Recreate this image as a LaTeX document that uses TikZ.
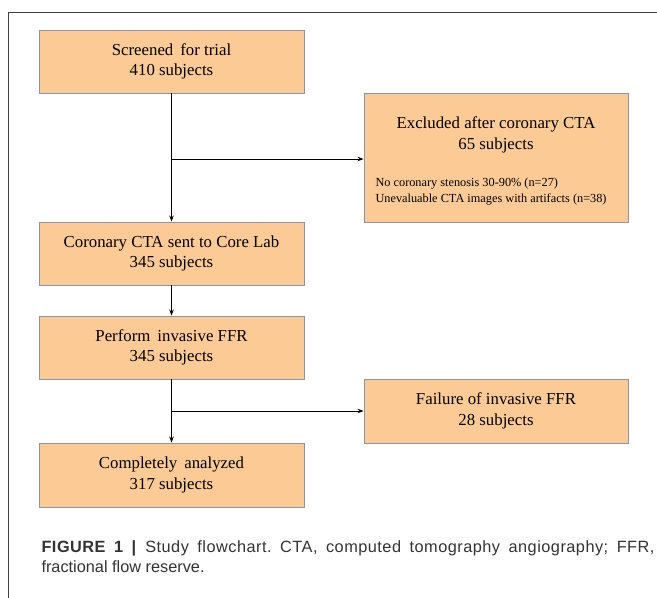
\documentclass[tikz,border=0pt]{standalone}
\usepackage{fontspec}
\setmainfont{Liberation Serif}
\newfontfamily\capfont{Liberation Sans}
\usetikzlibrary{arrows.meta}
\definecolor{boxfill}{HTML}{FCCA95}
\definecolor{boxline}{HTML}{8A94AE}
\definecolor{captext}{HTML}{333333}
\frenchspacing
\begin{document}
\begin{tikzpicture}[x=1pt,y=-1pt,
	stage/.style={draw=boxline,fill=boxfill,line width=0.9pt,minimum width=265pt,minimum height=63pt,inner sep=0pt,align=center,font=\fontsize{16.8}{20.5}\selectfont},
	flow/.style={-{Stealth[length=6pt,width=4.5pt]},line width=0.9pt}]
		\useasboundingbox (0,0) rectangle (657,598);
		% frame
		\draw[line width=0.9pt,black!75] (8,598) -- (8,12) -- (657,12);
		
		\node[stage] (A) at (171.5,61.5) {Screened\, for trial\\410 subjects};
		\node[stage] (B) at (171.5,253.5) {Coronary CTA sent to Core Lab\\345 subjects};
		\node[stage] (C) at (171.5,347.5) {Perform\, invasive FFR\\345 subjects};
		\node[stage,minimum height=64pt] (D) at (171.5,475) {Completely\, analyzed\\317 subjects};
		\node[stage,minimum width=264pt,minimum height=129pt] (E) at (496,157.5) {};
		\node[stage,minimum width=264pt,minimum height=64pt] (F) at (496,411) {Failure of invasive FFR\\28 subjects};
		\node[align=center,font=\fontsize{16.8}{21}\selectfont] (Et) at (496,135) {Excluded after coronary CTA\\65 subjects};
		\node[anchor=west,align=left,font=\fontsize{12.3}{16.5}\selectfont] (En) at (372,191.5) {No coronary stenosis 30-90\% (n=27)\\Unevaluable CTA images with artifacts (n=38)};
		\coordinate (s1) at (171.5,159);
		\coordinate (s2) at (171.5,411);
		
		\path[flow] (A) edge (B);
		\path[flow] (B) edge (C);
		\path[flow] (C) edge (D);
		\path[flow] (s1) edge (s1 -| E.west);
		\path[flow] (s2) edge (F.west);
		
		\node[anchor=north west,align=left,text=captext,font=\capfont\fontsize{16.3}{20.5}\selectfont] (cap) at (38,537) {\makebox[613pt][s]{\addfontfeature{LetterSpace=3}\textbf{FIGURE 1 |} Study flowchart. CTA, computed tomography angiography; FFR,}\\fractional flow reserve.};
		\end{tikzpicture}
\end{document}
